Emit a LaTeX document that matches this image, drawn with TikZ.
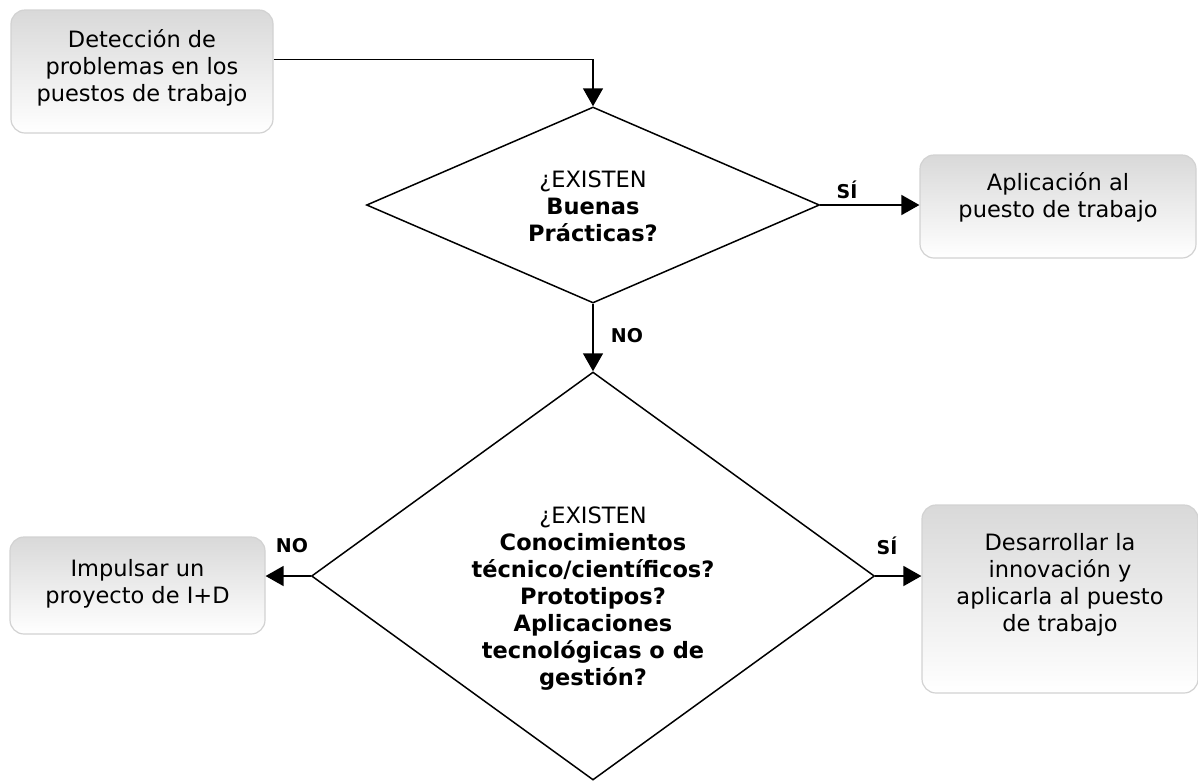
\documentclass[tikz,border=0pt]{standalone}
\usepackage{fontspec}
\setmainfont{DejaVu Sans}
\usetikzlibrary{shapes.geometric,arrows.meta}

\begin{document}
\begin{tikzpicture}[x=1pt,y=-1pt,
  caja/.style={rectangle, rounded corners=14pt, draw=gray!35, line width=1.2pt, top color=gray!30, bottom color=white, inner sep=0pt},
  rotulo/.style={align=center, font=\fontsize{22.5}{27}\selectfont},
  rombo/.style={diamond, draw, line width=1.5pt, inner sep=0pt},
  etiq/.style={font=\fontsize{19}{21}\selectfont\bfseries},
  flecha/.style={line width=1.6pt, -{Triangle[width=20pt,length=18pt]}}]
	\useasboundingbox (0,0) rectangle (1198,780);
		\path (142,71.5) node(det)[caja, minimum width=262pt, minimum height=123pt,
			label={[rotulo,yshift=4pt]center:{Detección de\\problemas en los\\puestos de trabajo}}]{}
		(593,205) node(d1)[rombo, minimum width=453pt, minimum height=196pt]{}
		(1058,206.5) node(apl)[caja, minimum width=276pt, minimum height=103pt,
			label={[rotulo,yshift=9pt]center:{Aplicación al\\puesto de trabajo}}]{}
		(593,576) node(d2)[rombo, minimum width=563pt, minimum height=408pt]{}
		(137.5,585.5) node(imp)[caja, minimum width=255pt, minimum height=97pt,
			label={[rotulo,yshift=2pt]center:{Impulsar un\\proyecto de I+D}}]{}
		(1060,599) node(des)[caja, minimum width=276pt, minimum height=188pt,
			label={[rotulo,yshift=14pt]center:{Desarrollar la\\innovación y\\aplicarla al puesto\\de trabajo}}]{};
		\node(q1)[rotulo] at (593,206) {¿EXISTEN\\\textbf{Buenas}\\\textbf{Prácticas?}};
		\node(q2)[rotulo] at (593,599) {¿EXISTEN\\\textbf{Conocimientos}\\\textbf{técnico/científicos?}\\\textbf{Prototipos?}\\\textbf{Aplicaciones}\\\textbf{tecnológicas o de}\\\textbf{gestión?}};
		\draw[flecha] ([yshift=12pt]det.east) -| (d1.north);
		\draw[flecha] (d1.east) -- (d1.east -| apl.west);
		\draw[flecha] (d1.south) -- (d2.north);
		\draw[flecha] (d2.west) -- (d2.west -| imp.east);
		\draw[flecha] (d2.east) -- (d2.east -| des.west);
		\node(si1)[etiq] at (847,190) {SÍ};
		\node(no1)[etiq] at (627,336) {NO};
		\node(no2)[etiq] at (292,546) {NO};
		\node(si2)[etiq] at (887,546) {SÍ};
	
 \end{tikzpicture}
\end{document}
